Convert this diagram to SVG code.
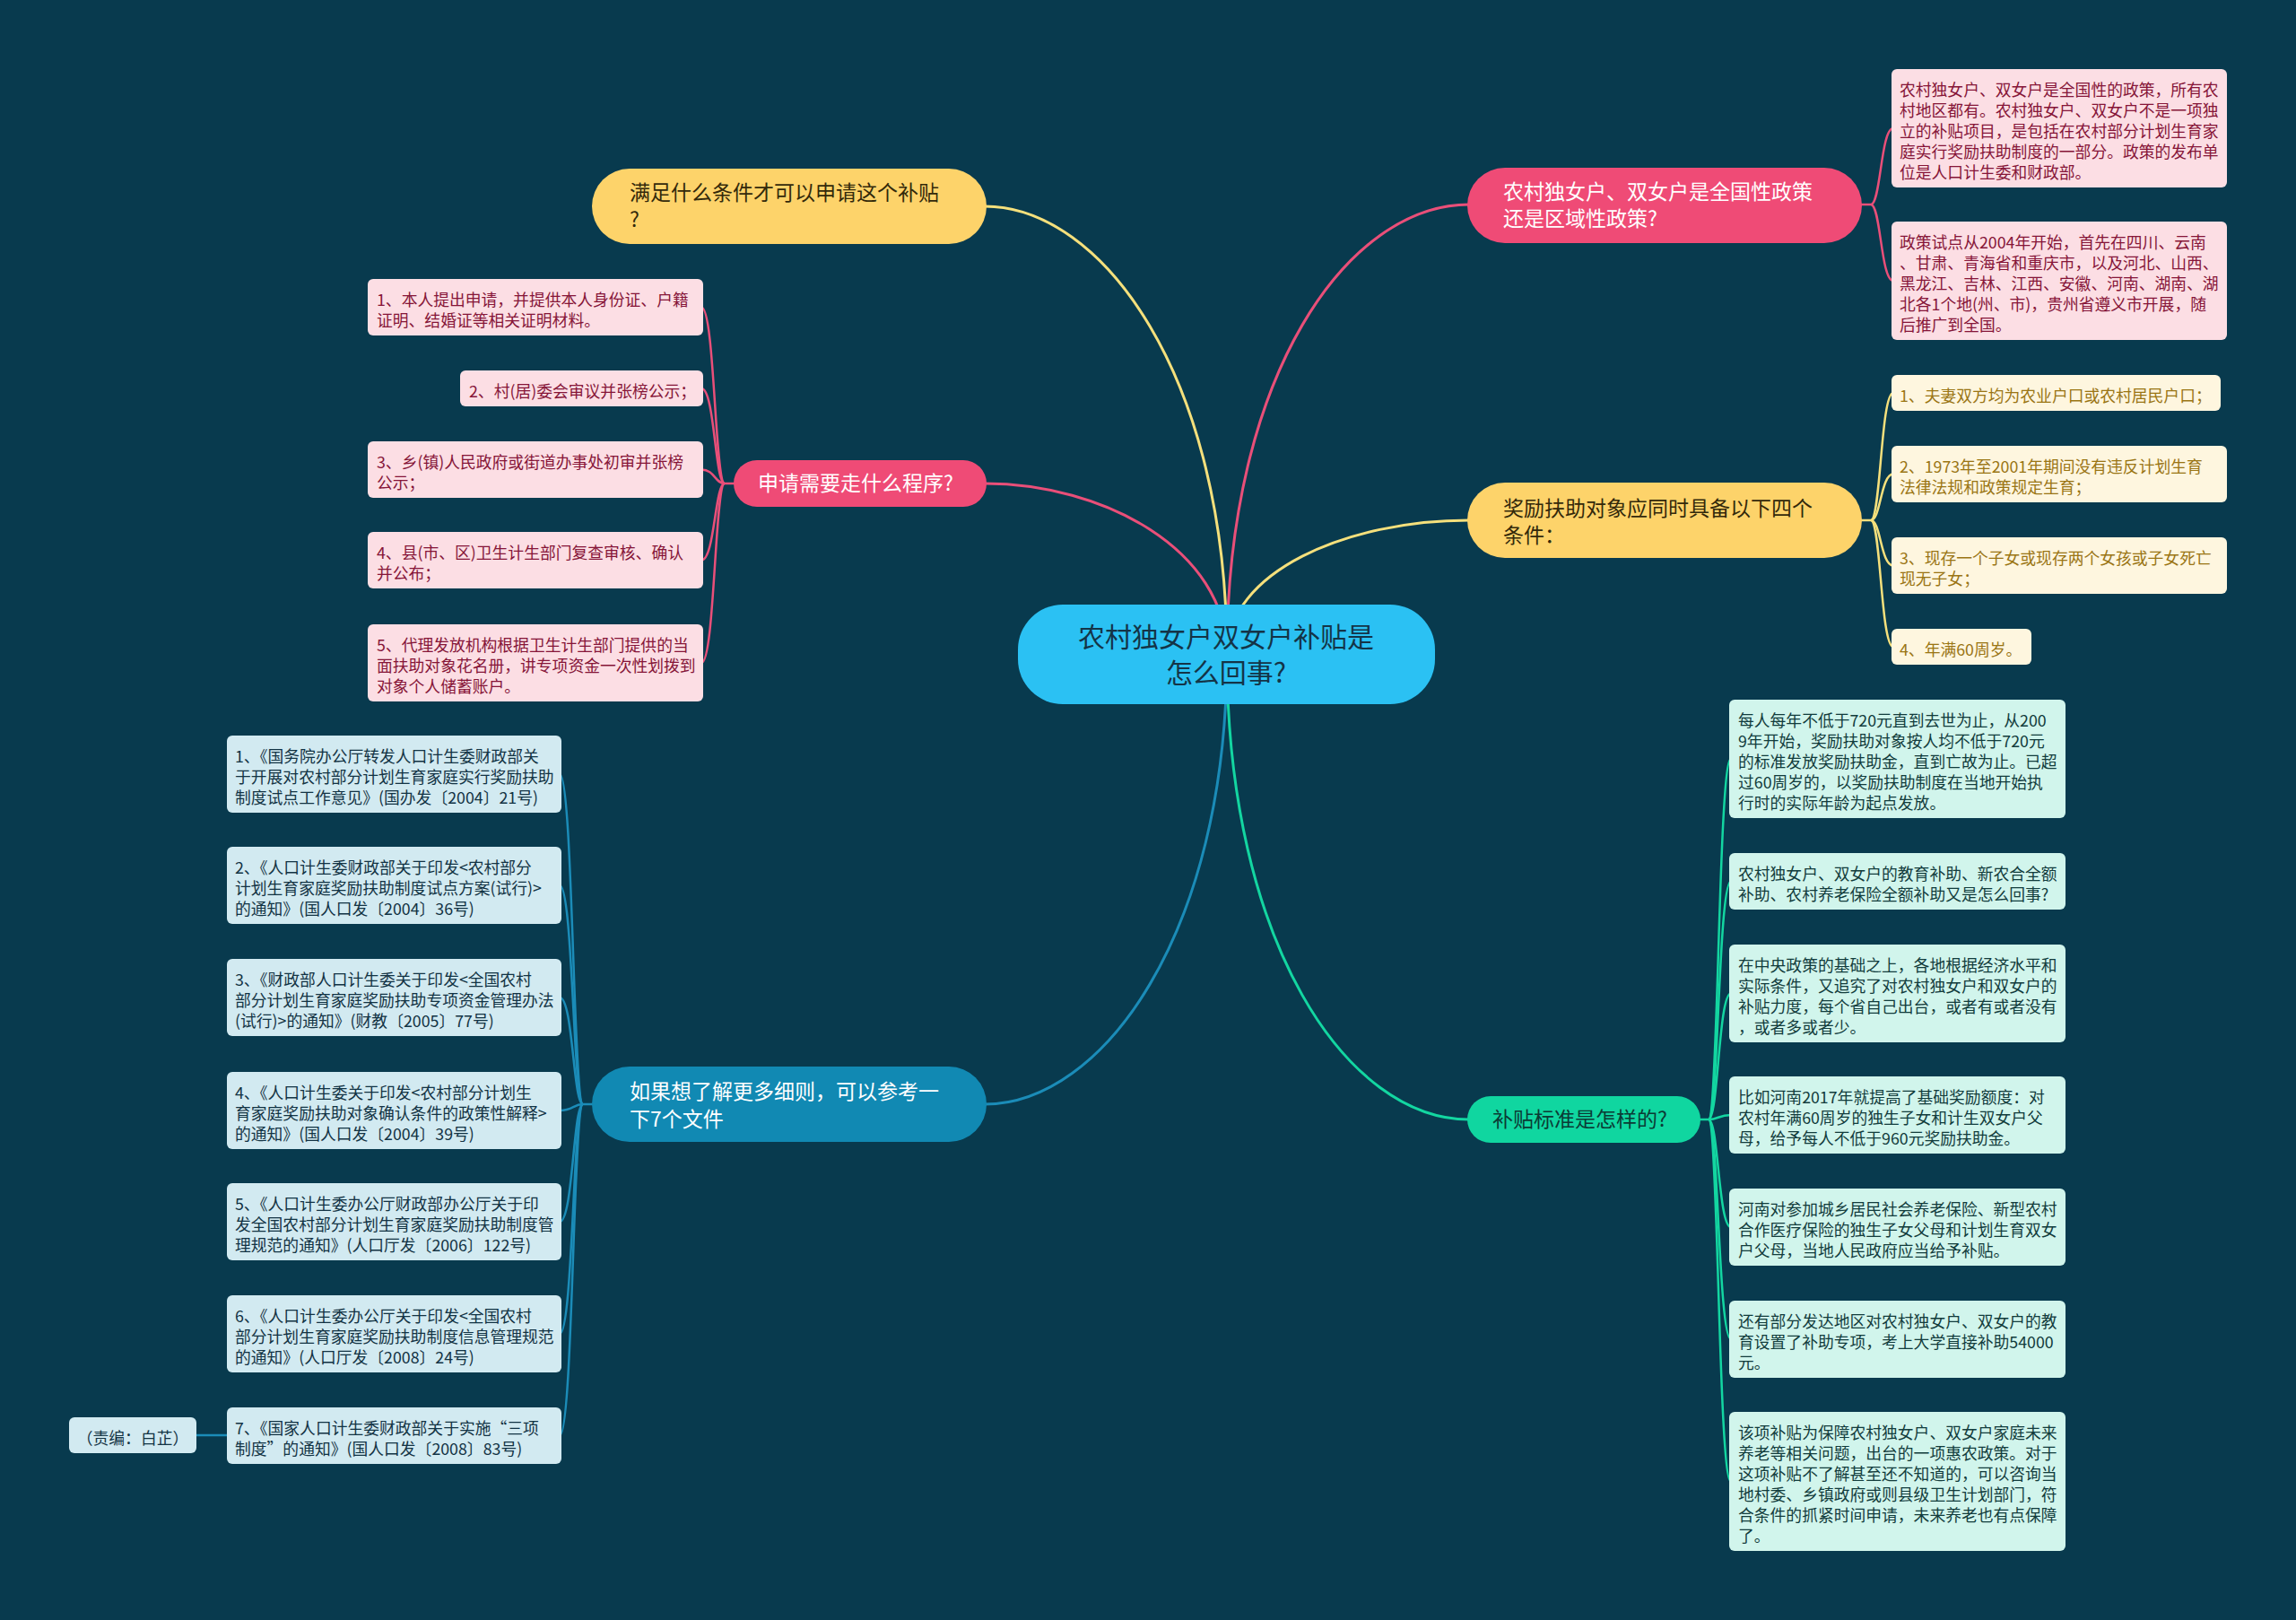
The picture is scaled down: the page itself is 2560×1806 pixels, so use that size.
<svg xmlns="http://www.w3.org/2000/svg" width="2560" height="1806" viewBox="0 0 2560 1806">
<style>
text{font-family:"Noto Sans CJK SC","Noto Sans",sans-serif;}
.lf{font-size:17.8px;}
.br{font-size:23px;}
.c-y{stroke:#f5e07c;}
.c-p{stroke:#e94f79;}
.c-b{stroke:#1b8cb8;}
.c-g{stroke:#13d6a1;}
.main{fill:none;stroke-width:3;}
.sub{fill:none;stroke-width:2.5;}
.lp rect{fill:#fcdee4;} .lp text{fill:#861538;}
.ly rect{fill:#fef6df;} .ly text{fill:#9a7514;}
.lg rect{fill:#d1f5ec;} .lg text{fill:#123c3c;}
.lb rect{fill:#d2eaf1;} .lb text{fill:#123344;}
</style>
<rect x="0" y="0" width="2560" height="1806" fill="#083a4e"/>

<g id="connectors">
<path class="main c-y" d="M1368 730 C1368 420 1229 230 1098 230"/>
<path class="main c-p" d="M1368 730 C1368 612 1229 539 1098 539"/>
<path class="main c-p" d="M1368 730 C1368 419 1502 228 1638 228"/>
<path class="main c-y" d="M1368 730 C1368 637 1502 580 1638 580"/>
<path class="main c-b" d="M1368 730 C1368 1041 1229 1231 1098 1231"/>
<path class="main c-g" d="M1368 730 C1368 1051 1502 1248 1638 1248"/>

<g class="sub c-p">
<path d="M2074 228 L2086 228 C2097 228 2097 143 2111 143"/>
<path d="M2086 228 C2097 228 2097 313 2111 313"/>
</g>
<g class="sub c-y">
<path d="M2074 580 L2086 580 C2097 580 2097 438 2111 438"/>
<path d="M2086 580 C2097 580 2097 528.5 2111 528.5"/>
<path d="M2086 580 C2097 580 2097 630.5 2111 630.5"/>
<path d="M2086 580 C2097 580 2097 721 2111 721"/>
</g>
<g class="sub c-g">
<path d="M1894 1248 L1905 1248 C1916 1248 1916 846 1930 846"/>
<path d="M1905 1248 C1916 1248 1916 982.5 1930 982.5"/>
<path d="M1905 1248 C1916 1248 1916 1107.5 1930 1107.5"/>
<path d="M1905 1248 C1916 1248 1916 1243 1930 1243"/>
<path d="M1905 1248 C1916 1248 1916 1368 1930 1368"/>
<path d="M1905 1248 C1916 1248 1916 1493 1930 1493"/>
<path d="M1905 1248 C1916 1248 1916 1651.5 1930 1651.5"/>
</g>
<g class="sub c-p">
<path d="M820 539 L808 539 C797 539 797 342.5 782 342.5"/>
<path d="M808 539 C797 539 797 433 782 433"/>
<path d="M808 539 C797 539 797 523.5 782 523.5"/>
<path d="M808 539 C797 539 797 624.5 782 624.5"/>
<path d="M808 539 C797 539 797 739 782 739"/>
</g>
<g class="sub c-b">
<path d="M662 1231 L650 1231 C639 1231 639 863 624 863"/>
<path d="M650 1231 C639 1231 639 987 624 987"/>
<path d="M650 1231 C639 1231 639 1112 624 1112"/>
<path d="M650 1231 C639 1231 639 1238 624 1238"/>
<path d="M650 1231 C639 1231 639 1362 624 1362"/>
<path d="M650 1231 C639 1231 639 1487 624 1487"/>
<path d="M650 1231 C639 1231 639 1600.5 624 1600.5"/>
<path d="M255 1600 L217 1600"/>
</g>
</g>

<g id="center">
<rect x="1135" y="674" width="465" height="111" rx="50" fill="#2bc1f3"/>
<text x="1367" y="721" font-size="30" fill="#143447" text-anchor="middle">农村独女户双女户补贴是</text>
<text x="1367" y="761" font-size="30" fill="#143447" text-anchor="middle">怎么回事?</text>
</g>

<g id="branch-conditions">
<rect x="660" y="188" width="440" height="84" rx="42" fill="#fdd36a"/>
<text class="br" fill="#33290a"><tspan x="702" y="223">满足什么条件才可以申请这个补贴</tspan><tspan x="702" y="253">?</tspan></text>
</g>
<g id="branch-procedure">
<rect x="818" y="513" width="282" height="52" rx="26" fill="#ef4b76"/>
<text class="br" x="845" y="547" fill="#ffffff">申请需要走什么程序?</text>
</g>
<g id="branch-policy">
<rect x="1636" y="187" width="440" height="84" rx="42" fill="#ef4b76"/>
<text class="br" fill="#ffffff"><tspan x="1676" y="222">农村独女户、双女户是全国性政策</tspan><tspan x="1676" y="252">还是区域性政策?</tspan></text>
</g>
<g id="branch-requirements">
<rect x="1636" y="538" width="440" height="84" rx="42" fill="#fdd36a"/>
<text class="br" fill="#33290a"><tspan x="1676" y="575">奖励扶助对象应同时具备以下四个</tspan><tspan x="1676" y="605">条件：</tspan></text>
</g>
<g id="branch-documents">
<rect x="660" y="1189" width="440" height="84" rx="42" fill="#1189b3"/>
<text class="br" fill="#ffffff"><tspan x="702" y="1225">如果想了解更多细则，可以参考一</tspan><tspan x="702" y="1256">下7个文件</tspan></text>
</g>
<g id="branch-standard">
<rect x="1636" y="1222" width="260" height="52" rx="26" fill="#10d6a0"/>
<text class="br" x="1664" y="1256" fill="#0b3b35">补贴标准是怎样的?</text>
</g>

<g id="policy-1" class="lp">
<rect x="2109" y="77" width="374" height="132" rx="6"/>
<text class="lf"><tspan x="2118" y="107">农村独女户、双女户是全国性的政策，所有农</tspan><tspan x="2118" y="130">村地区都有。农村独女户、双女户不是一项独</tspan><tspan x="2118" y="153">立的补贴项目，是包括在农村部分计划生育家</tspan><tspan x="2118" y="176">庭实行奖励扶助制度的一部分。政策的发布单</tspan><tspan x="2118" y="199">位是人口计生委和财政部。</tspan></text>
</g>
<g id="policy-2" class="lp">
<rect x="2109" y="247" width="374" height="132" rx="6"/>
<text class="lf"><tspan x="2118" y="277">政策试点从2004年开始，首先在四川、云南</tspan><tspan x="2118" y="300">、甘肃、青海省和重庆市，以及河北、山西、</tspan><tspan x="2118" y="323">黑龙江、吉林、江西、安徽、河南、湖南、湖</tspan><tspan x="2118" y="346">北各1个地(州、市)，贵州省遵义市开展，随</tspan><tspan x="2118" y="369">后推广到全国。</tspan></text>
</g>

<g id="req-1" class="ly">
<rect x="2109" y="418" width="367" height="40" rx="6"/>
<text class="lf" x="2118" y="448">1、夫妻双方均为农业户口或农村居民户口；</text>
</g>
<g id="req-2" class="ly">
<rect x="2109" y="497" width="374" height="63" rx="6"/>
<text class="lf"><tspan x="2118" y="527">2、1973年至2001年期间没有违反计划生育</tspan><tspan x="2118" y="550">法律法规和政策规定生育；</tspan></text>
</g>
<g id="req-3" class="ly">
<rect x="2109" y="599" width="374" height="63" rx="6"/>
<text class="lf"><tspan x="2118" y="629">3、现存一个子女或现存两个女孩或子女死亡</tspan><tspan x="2118" y="652">现无子女；</tspan></text>
</g>
<g id="req-4" class="ly">
<rect x="2109" y="701" width="156" height="40" rx="6"/>
<text class="lf" x="2118" y="731">4、年满60周岁。</text>
</g>

<g id="std-1" class="lg">
<rect x="1928" y="780" width="375" height="132" rx="6"/>
<text class="lf"><tspan x="1938" y="810">每人每年不低于720元直到去世为止，从200</tspan><tspan x="1938" y="833">9年开始，奖励扶助对象按人均不低于720元</tspan><tspan x="1938" y="856">的标准发放奖励扶助金，直到亡故为止。已超</tspan><tspan x="1938" y="879">过60周岁的，以奖励扶助制度在当地开始执</tspan><tspan x="1938" y="902">行时的实际年龄为起点发放。</tspan></text>
</g>
<g id="std-2" class="lg">
<rect x="1928" y="951" width="375" height="63" rx="6"/>
<text class="lf"><tspan x="1938" y="981">农村独女户、双女户的教育补助、新农合全额</tspan><tspan x="1938" y="1004">补助、农村养老保险全额补助又是怎么回事?</tspan></text>
</g>
<g id="std-3" class="lg">
<rect x="1928" y="1053" width="375" height="109" rx="6"/>
<text class="lf"><tspan x="1938" y="1083">在中央政策的基础之上，各地根据经济水平和</tspan><tspan x="1938" y="1106">实际条件，又追究了对农村独女户和双女户的</tspan><tspan x="1938" y="1129">补贴力度，每个省自己出台，或者有或者没有</tspan><tspan x="1938" y="1152">，或者多或者少。</tspan></text>
</g>
<g id="std-4" class="lg">
<rect x="1928" y="1200" width="375" height="86" rx="6"/>
<text class="lf"><tspan x="1938" y="1230">比如河南2017年就提高了基础奖励额度：对</tspan><tspan x="1938" y="1253">农村年满60周岁的独生子女和计生双女户父</tspan><tspan x="1938" y="1276">母，给予每人不低于960元奖励扶助金。</tspan></text>
</g>
<g id="std-5" class="lg">
<rect x="1928" y="1325" width="375" height="86" rx="6"/>
<text class="lf"><tspan x="1938" y="1355">河南对参加城乡居民社会养老保险、新型农村</tspan><tspan x="1938" y="1378">合作医疗保险的独生子女父母和计划生育双女</tspan><tspan x="1938" y="1401">户父母，当地人民政府应当给予补贴。</tspan></text>
</g>
<g id="std-6" class="lg">
<rect x="1928" y="1450" width="375" height="86" rx="6"/>
<text class="lf"><tspan x="1938" y="1480">还有部分发达地区对农村独女户、双女户的教</tspan><tspan x="1938" y="1503">育设置了补助专项，考上大学直接补助54000</tspan><tspan x="1938" y="1526">元。</tspan></text>
</g>
<g id="std-7" class="lg">
<rect x="1928" y="1574" width="375" height="155" rx="6"/>
<text class="lf"><tspan x="1938" y="1604">该项补贴为保障农村独女户、双女户家庭未来</tspan><tspan x="1938" y="1627">养老等相关问题，出台的一项惠农政策。对于</tspan><tspan x="1938" y="1650">这项补贴不了解甚至还不知道的，可以咨询当</tspan><tspan x="1938" y="1673">地村委、乡镇政府或则县级卫生计划部门，符</tspan><tspan x="1938" y="1696">合条件的抓紧时间申请，未来养老也有点保障</tspan><tspan x="1938" y="1719">了。</tspan></text>
</g>

<g id="proc-1" class="lp">
<rect x="410" y="311" width="374" height="63" rx="6"/>
<text class="lf"><tspan x="420" y="341">1、本人提出申请，并提供本人身份证、户籍</tspan><tspan x="420" y="364">证明、结婚证等相关证明材料。</tspan></text>
</g>
<g id="proc-2" class="lp">
<rect x="513" y="413" width="271" height="40" rx="6"/>
<text class="lf" x="523" y="443">2、村(居)委会审议并张榜公示；</text>
</g>
<g id="proc-3" class="lp">
<rect x="410" y="492" width="374" height="63" rx="6"/>
<text class="lf"><tspan x="420" y="522">3、乡(镇)人民政府或街道办事处初审并张榜</tspan><tspan x="420" y="545">公示；</tspan></text>
</g>
<g id="proc-4" class="lp">
<rect x="410" y="593" width="374" height="63" rx="6"/>
<text class="lf"><tspan x="420" y="623">4、县(市、区)卫生计生部门复查审核、确认</tspan><tspan x="420" y="646">并公布；</tspan></text>
</g>
<g id="proc-5" class="lp">
<rect x="410" y="696" width="374" height="86" rx="6"/>
<text class="lf"><tspan x="420" y="726">5、代理发放机构根据卫生计生部门提供的当</tspan><tspan x="420" y="749">面扶助对象花名册，讲专项资金一次性划拨到</tspan><tspan x="420" y="772">对象个人储蓄账户。</tspan></text>
</g>

<g id="doc-1" class="lb">
<rect x="253" y="820" width="373" height="86" rx="6"/>
<text class="lf"><tspan x="262" y="850">1、《国务院办公厅转发人口计生委财政部关</tspan><tspan x="262" y="873">于开展对农村部分计划生育家庭实行奖励扶助</tspan><tspan x="262" y="896">制度试点工作意见》(国办发〔2004〕21号)</tspan></text>
</g>
<g id="doc-2" class="lb">
<rect x="253" y="944" width="373" height="86" rx="6"/>
<text class="lf"><tspan x="262" y="974">2、《人口计生委财政部关于印发&lt;农村部分</tspan><tspan x="262" y="997">计划生育家庭奖励扶助制度试点方案(试行)&gt;</tspan><tspan x="262" y="1020">的通知》(国人口发〔2004〕36号)</tspan></text>
</g>
<g id="doc-3" class="lb">
<rect x="253" y="1069" width="373" height="86" rx="6"/>
<text class="lf"><tspan x="262" y="1099">3、《财政部人口计生委关于印发&lt;全国农村</tspan><tspan x="262" y="1122">部分计划生育家庭奖励扶助专项资金管理办法</tspan><tspan x="262" y="1145">(试行)&gt;的通知》(财教〔2005〕77号)</tspan></text>
</g>
<g id="doc-4" class="lb">
<rect x="253" y="1195" width="373" height="86" rx="6"/>
<text class="lf"><tspan x="262" y="1225">4、《人口计生委关于印发&lt;农村部分计划生</tspan><tspan x="262" y="1248">育家庭奖励扶助对象确认条件的政策性解释&gt;</tspan><tspan x="262" y="1271">的通知》(国人口发〔2004〕39号)</tspan></text>
</g>
<g id="doc-5" class="lb">
<rect x="253" y="1319" width="373" height="86" rx="6"/>
<text class="lf"><tspan x="262" y="1349">5、《人口计生委办公厅财政部办公厅关于印</tspan><tspan x="262" y="1372">发全国农村部分计划生育家庭奖励扶助制度管</tspan><tspan x="262" y="1395">理规范的通知》(人口厅发〔2006〕122号)</tspan></text>
</g>
<g id="doc-6" class="lb">
<rect x="253" y="1444" width="373" height="86" rx="6"/>
<text class="lf"><tspan x="262" y="1474">6、《人口计生委办公厅关于印发&lt;全国农村</tspan><tspan x="262" y="1497">部分计划生育家庭奖励扶助制度信息管理规范</tspan><tspan x="262" y="1520">的通知》(人口厅发〔2008〕24号)</tspan></text>
</g>
<g id="doc-7" class="lb">
<rect x="253" y="1569" width="373" height="63" rx="6"/>
<text class="lf"><tspan x="262" y="1599">7、《国家人口计生委财政部关于实施“三项</tspan><tspan x="262" y="1622">制度”的通知》(国人口发〔2008〕83号)</tspan></text>
</g>
<g id="editor" class="lb">
<rect x="77" y="1580" width="142" height="40" rx="6"/>
<text class="lf" x="148" y="1610" text-anchor="middle">（责编：白芷）</text>
</g>
</svg>
